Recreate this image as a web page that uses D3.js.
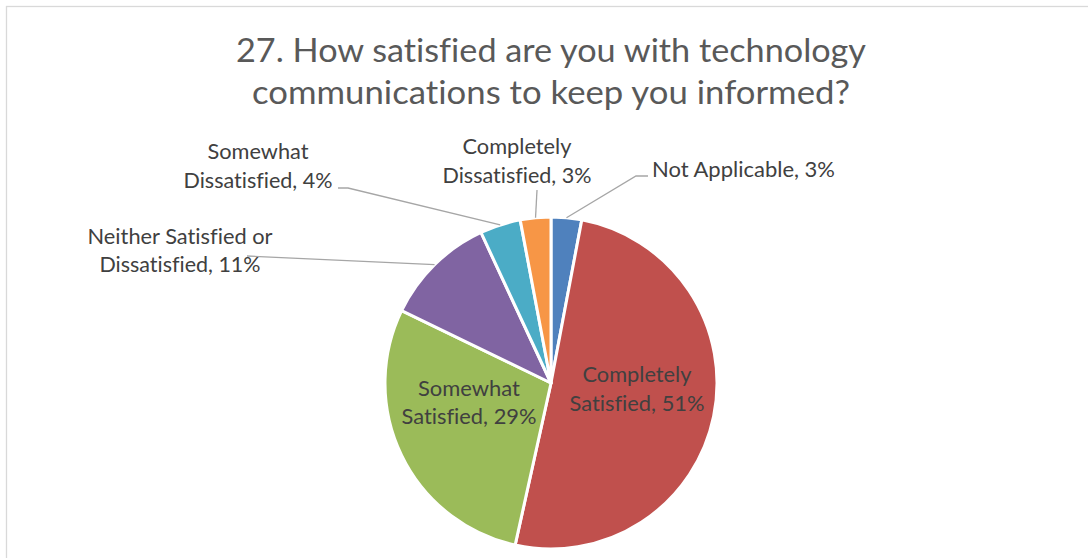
<!DOCTYPE html>
<html>
<head>
<meta charset="utf-8">
<script src="https://cdn.jsdelivr.net/npm/d3@7"></script>
<style>
  html, body { margin: 0; padding: 0; background: #fff; }
  svg { display: block; }
  text { font-family: Lato, "Open Sans", sans-serif; font-variant-ligatures: none; }
</style>
</head>
<body>
<svg id="chart" width="1088" height="558"></svg>
<script>
// Survey question 27 — share of responses per answer
const categories = [
  "Not Applicable",
  "Completely Satisfied",
  "Somewhat Satisfied",
  "Neither Satisfied or Dissatisfied",
  "Somewhat Dissatisfied",
  "Completely Dissatisfied"
];
const percents = [3, 51, 29, 11, 4, 3];
const colors = ["#4F81BD", "#C0504D", "#9BBB59", "#8064A2", "#4BACC6", "#F79646"];
const titleLines = ["27. How satisfied are you with technology", "communications to keep you informed?"];

// Label placement: text lines, anchor point, fitted widths, and leader elbow (if outside)
const labelLayout = [
  { lines: ["Not Applicable, 3%"], x: 652, y: [177], w: [183], anchor: "start", elbow: [[636, 176], [648, 176]] },
  { lines: ["Completely", "Satisfied, 51%"], x: 637, y: [382, 411], w: [109, 135], anchor: "middle" },
  { lines: ["Somewhat", "Satisfied, 29%"], x: 469, y: [396, 424], w: [102, 135], anchor: "middle" },
  { lines: ["Neither Satisfied or", "Dissatisfied, 11%"], x: 180, y: [244, 272], w: [185, 161], anchor: "middle", elbow: [[247, 256]] },
  { lines: ["Somewhat", "Dissatisfied, 4%"], x: 258, y: [159, 188], w: [101, 149], anchor: "middle", elbow: [[348, 188], [338, 188]] },
  { lines: ["Completely", "Dissatisfied, 3%"], x: 517, y: [154, 183], w: [109, 149], anchor: "middle", elbow: [[537, 190]] }
];

const svg = d3.select("#chart");
const cx = 551, cy = 383, r = 166;

// Chart area frame
svg.append("rect")
  .attr("x", 6.5).attr("y", 6.5)
  .attr("width", 1100).attr("height", 600)
  .attr("fill", "#fff")
  .attr("stroke", "#d9d9d9").attr("stroke-width", 1.3);

// Title
svg.append("g").selectAll("text")
  .data(titleLines)
  .join("text")
  .attr("x", 551)
  .attr("y", (d, i) => 62 + i * 42)
  .attr("text-anchor", "middle")
  .attr("font-size", 32)
  .attr("fill", "#595959")
  .attr("textLength", (d, i) => [630, 598][i])
  .attr("lengthAdjust", "spacingAndGlyphs")
  .text(d => d);

const pie = d3.pie().sort(null).value(d => d)(percents);
const arc = d3.arc().innerRadius(0).outerRadius(r);

const g = svg.append("g").attr("transform", `translate(${cx},${cy})`);
g.selectAll("path")
  .data(pie)
  .join("path")
  .attr("d", arc)
  .attr("fill", (d, i) => colors[i])
  .attr("stroke", "#fff")
  .attr("stroke-width", 3)
  .attr("stroke-linejoin", "round");

// Leader lines from the slice edge at its mid-angle to the label
const edgePoint = d => {
  const a = (d.startAngle + d.endAngle) / 2;
  return [cx + r * Math.sin(a), cy - r * Math.cos(a)];
};
const line = d3.line();
svg.append("g").selectAll("path")
  .data(pie.filter((d, i) => labelLayout[i].elbow))
  .join("path")
  .attr("d", d => {
    const L = labelLayout[d.index];
    return line([edgePoint(d), ...L.elbow]);
  })
  .attr("fill", "none")
  .attr("stroke", "#a6a6a6")
  .attr("stroke-width", 1.3);

// Data labels
const lg = svg.append("g");
labelLayout.forEach((L, i) => {
  L.lines.forEach((t, j) => {
    lg.append("text")
      .attr("x", L.x)
      .attr("y", L.y[j])
      .attr("text-anchor", L.anchor)
      .attr("font-size", 21)
      .attr("fill", "#404040")
      .attr("textLength", L.w[j])
      .attr("lengthAdjust", "spacingAndGlyphs")
      .text(t);
  });
});
</script>
</body>
</html>
